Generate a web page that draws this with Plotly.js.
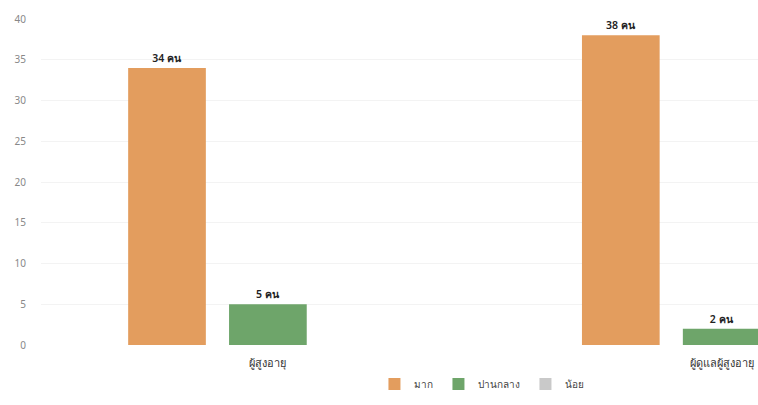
<!DOCTYPE html>
<html>
<head>
<meta charset="utf-8">
<script src="https://cdn.plot.ly/plotly-3.0.1.min.js"></script>
<style>html,body{margin:0;padding:0;background:#fff}#chart{width:758px;height:405px}</style>
</head>
<body>
<div id="chart"></div>
<script>
var categories = ["ผู้สูงอายุ", "ผู้ดูแลผู้สูงอายุ"];
var seriesNames = ["มาก", "ปานกลาง", "น้อย"];
var valuesMak = [34, 38];
var valuesPanklang = [5, 2];
var valuesNoi = [0, 0];
var yTicks = [0, 5, 10, 15, 20, 25, 30, 35, 40];

var colors = ["#E39D5E", "#6EA56A", "#C9C9C9"];
function labels(v){ return v.map(function(x){ return x > 0 ? x + " คน" : ""; }); }
var seriesValues = [valuesMak, valuesPanklang, valuesNoi];
var font = "Noto Sans, DejaVu Sans, sans-serif";
var traces = seriesValues.map(function(vals, i){
  return {
    type: "bar", name: seriesNames[i], x: categories, y: vals,
    text: labels(vals), textposition: "outside", cliponaxis: false,
    textfont: {family: font, size: 10.5, color: "#222", weight: 600},
    marker: {color: colors[i]}, hoverinfo: "none"
  };
});
var layout = {
  width: 758, height: 405,
  margin: {l: 41, r: 0, t: 19, b: 60},
  paper_bgcolor: "#fff", plot_bgcolor: "#fff",
  barmode: "group", bargap: 0.333, bargroupgap: 0.23,
  showlegend: true,
  legend: {orientation: "h", x: 0.615, xanchor: "center", y: -0.075, yanchor: "top",
           itemwidth: 30, tracegroupgap: 0,
           font: {family: font, size: 10, color: "#444"}},
  xaxis: {type: "category", range: [-0.5, 1.08], showgrid: false, zeroline: false,
          showline: false, ticks: "", ticklabelstandoff: 10,
          tickfont: {family: font, size: 11, color: "#333"}},
  yaxis: {range: [0, 40], tickvals: yTicks, showgrid: true, gridcolor: "#f3f3f3",
          zeroline: false, showline: false, ticks: "", ticklabelstandoff: 14,
          tickfont: {family: font, size: 10, color: "#888"}},
  font: {family: font}
};
Plotly.newPlot("chart", traces, layout, {displayModeBar: false, staticPlot: true});
</script>
</body>
</html>
